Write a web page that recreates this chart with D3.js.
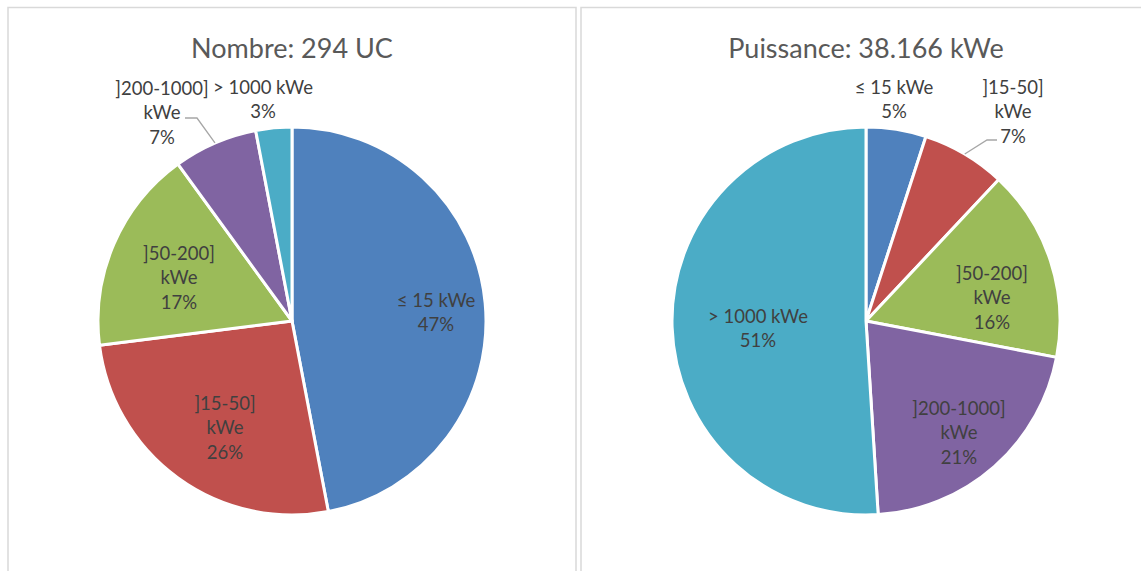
<!DOCTYPE html>
<html>
<head>
<meta charset="utf-8">
<script src="https://cdn.jsdelivr.net/npm/d3@7"></script>
<style>
  html, body { margin: 0; padding: 0; background: #fff; }
  svg { display: block; }
  text { font-family: Lato, "Open Sans", sans-serif; }
</style>
</head>
<body>
<svg id="chart" width="1141" height="571"></svg>
<script>
// ---------- data ----------
const categories = ["≤ 15 kWe", "]15-50] kWe", "]50-200] kWe", "]200-1000] kWe", "> 1000 kWe"];
const labelLines = [["≤ 15 kWe"], ["]15-50]", "kWe"], ["]50-200]", "kWe"], ["]200-1000]", "kWe"], ["> 1000 kWe"]];
const colors = ["#4F81BD", "#C0504D", "#9BBB59", "#8064A2", "#4BACC6"];

const nombreTitle = "Nombre: 294 UC";
const nombreValues = [47, 26, 17, 7, 3];

const puissanceTitle = "Puissance: 38.166 kWe";
const puissanceValues = [5, 7, 16, 21, 51];

// ---------- layout (positions only) ----------
const W = 1141, H = 571;
const panels = [
  { title: nombreTitle, values: nombreValues, x0: 8, x1: 576, cx: 292, cy: 321, r: 194,
    // label block centre offsets from pie centre
    labelOffsets: [[144, -9], [-67, 106], [-113, -44], [-130, -209], [-29, -222]],
    leader: [null, null, null, { knee: [-95, -203], start: [-107, -203] }, null] },
  { title: puissanceTitle, values: puissanceValues, x0: 581, x1: 1160, cx: 866, cy: 321, r: 194,
    labelOffsets: [[28, -222], [147, -210], [126, -24], [93, 111], [-108, 7]],
    leader: [null, { knee: [121, -181], start: [131, -181] }, null, null, null] }
];

const svg = d3.select("#chart");
svg.append("rect").attr("width", W).attr("height", H).attr("fill", "#fff");

const pie = d3.pie().sort(null).value(d => d);
const lineH = 24.5;

panels.forEach(p => {
  // panel border
  svg.append("rect")
    .attr("x", p.x0).attr("y", 7.5)
    .attr("width", p.x1 - p.x0).attr("height", H + 20)
    .attr("fill", "none").attr("stroke", "#D9D9D9").attr("stroke-width", 1.5);

  const g = svg.append("g").attr("transform", `translate(${p.cx},${p.cy})`);
  const arcs = pie(p.values);
  const arc = d3.arc().innerRadius(0).outerRadius(p.r);

  g.selectAll("path.slice").data(arcs).join("path")
    .attr("class", "slice")
    .attr("d", arc)
    .attr("fill", (d, i) => colors[i])
    .attr("stroke", "#fff")
    .attr("stroke-width", 3)
    .attr("stroke-linejoin", "round");

  // title
  svg.append("text")
    .attr("x", p.cx).attr("y", 47)
    .attr("text-anchor", "middle").attr("dominant-baseline", "central")
    .attr("font-size", 27).attr("fill", "#595959")
    .text(p.title);

  // leader lines
  const edge = d3.arc().innerRadius(p.r).outerRadius(p.r);
  arcs.forEach((d, i) => {
    const L = p.leader[i];
    if (!L) return;
    const mid = (d.startAngle + d.endAngle) / 2;
    const ex = Math.sin(mid) * p.r, ey = -Math.cos(mid) * p.r;
    g.append("polyline")
      .attr("points", [L.start, L.knee, [ex, ey]].map(q => q.join(",")).join(" "))
      .attr("fill", "none").attr("stroke", "#A6A6A6").attr("stroke-width", 1.3);
  });

  // labels
  arcs.forEach((d, i) => {
    const lines = labelLines[i].concat([d3.format(".0f")(d.data) + "%"]);
    const [ox, oy] = p.labelOffsets[i];
    const t = g.append("text")
      .attr("text-anchor", "middle")
      .attr("font-size", 18.5).attr("fill", "#404040");
    lines.forEach((ln, k) => {
      t.append("tspan")
        .attr("x", ox)
        .attr("y", oy + (k - (lines.length - 1) / 2) * lineH)
        .attr("dominant-baseline", "central")
        .text(ln);
    });
  });
});
</script>
</body>
</html>
